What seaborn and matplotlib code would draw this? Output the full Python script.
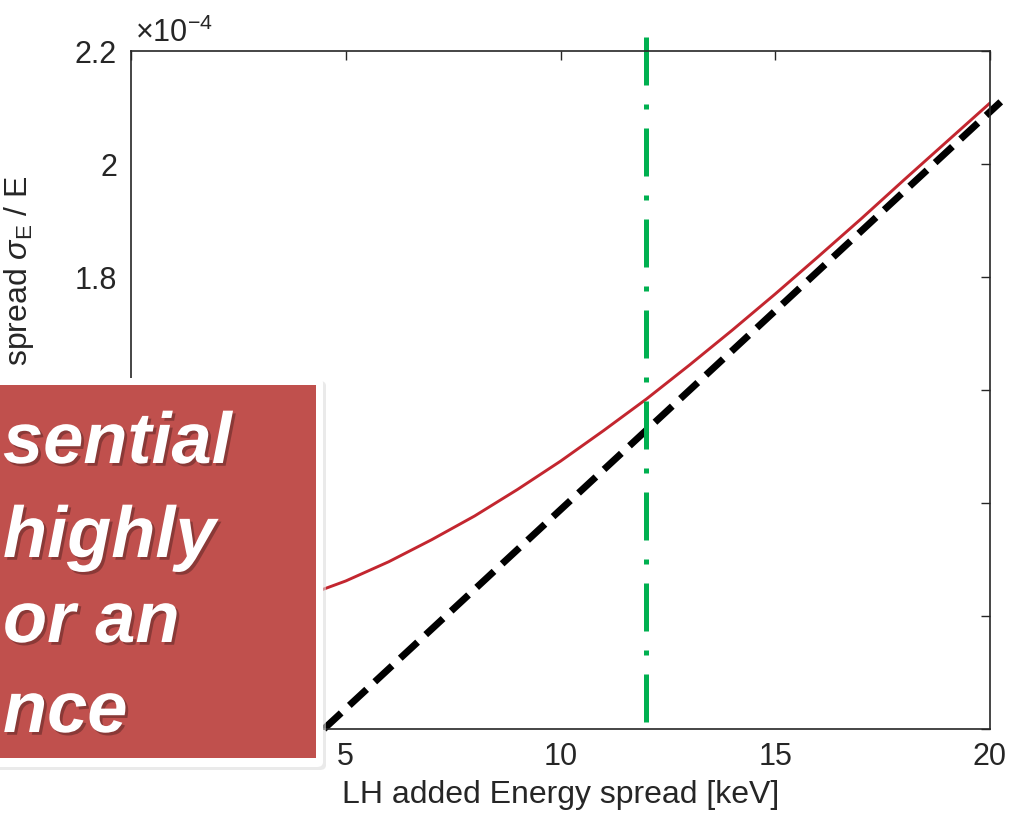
import numpy as np
import pandas as pd
import matplotlib
matplotlib.use("Agg")
import matplotlib.pyplot as plt
import matplotlib.patches as mpatches
import matplotlib.patheffects as pe
import seaborn as sns

# ---------------- data (y in units of 1e-4) ----------------
red_x = [0, 1, 2, 3, 4, 5, 6, 7, 8, 9, 10, 11, 12, 13, 14, 15, 16, 17, 18, 19, 20]
red_y = [1.182, 1.185, 1.195, 1.212, 1.234, 1.262, 1.296, 1.335, 1.377, 1.424,
         1.474, 1.528, 1.584, 1.644, 1.706, 1.770, 1.836, 1.903, 1.972, 2.040, 2.108]
black_x = [4.49, 20.25]
black_y = [1.000, 2.110]
green_x = [12, 12]
green_y = [1.012, 2.228]

x_ticks = [0, 5, 10, 15, 20]
x_tick_labels = ["", "5", "10", "15", "20"]          # 0 is hidden behind the callout
y_ticks = [1.0, 1.2, 1.4, 1.6, 1.8, 2.0, 2.2]
y_tick_labels = ["", "", "", "", "1.8", "2", "2.2"]  # lower labels hidden behind the callout
box_lines = ["sential", "highly", "or an", "nce"]

sns.set_style("white")
plt.rcParams["font.family"] = ["Liberation Sans", "DejaVu Sans"]
plt.rcParams["mathtext.fontset"] = "custom"
plt.rcParams["mathtext.rm"] = "Liberation Sans"
plt.rcParams["mathtext.it"] = "Liberation Sans:italic"
plt.rcParams["mathtext.bf"] = "Liberation Sans:bold"

W, H = 1025, 822
fig = plt.figure(figsize=(W / 100, H / 100), dpi=100)
fig.patch.set_facecolor("white")
ax = fig.add_axes([131 / W, 1 - 729 / H, (990 - 131) / W, (729 - 51) / H])

dark = "#262626"

sns.lineplot(x=red_x, y=red_y, ax=ax, color="#C3262F", linewidth=2.1,
             estimator=None, sort=False)
sns.lineplot(x=black_x, y=black_y, ax=ax, color="black", linewidth=5.0,
             estimator=None, sort=False)
sns.lineplot(x=green_x, y=green_y, ax=ax, color="#00B050", linewidth=3.6,
             estimator=None, sort=False)
lines = ax.get_lines()
lines[1].set_linestyle((0, (3.4, 1.6)))
lines[1].set_clip_on(False)
lines[2].set_linestyle((0, (9.6, 3.8, 1.0, 3.8)))
lines[2].set_clip_on(False)

ax.set_xlim(0, 20)
ax.set_ylim(1.0, 2.2)
ax.set_xticks(x_ticks)
ax.set_xticklabels(x_tick_labels)
ax.set_yticks(y_ticks)
ax.set_yticklabels(y_tick_labels)
ax.tick_params(axis="both", direction="in", length=6.5, width=1.0,
               top=True, right=True, labelsize=22, colors=dark)
ax.tick_params(axis="x", pad=9)
ax.tick_params(axis="y", pad=10)
for s in ax.spines.values():
    s.set_visible(True)
    s.set_color(dark)
    s.set_linewidth(1.2)

ax.set_xlabel("LH added Energy spread [keV]", fontsize=23, color=dark, labelpad=6)
ax.set_ylabel(r"spread $\sigma_{\mathrm{E}}$ / E", fontsize=23, color=dark)
ax.yaxis.set_label_coords((36 - 131) / (990 - 131), (729 - 271) / (729 - 51))

fig.text(135 / W, 1 - 42 / H, r"$\times$10$^{-4}$", fontsize=22, color=dark,
         ha="left", va="baseline")

# ---------------- overlay callout box ----------------
def fx(px):
    return px / W

def fy(py):
    return 1 - py / H

shadow = mpatches.FancyBboxPatch((fx(-10), fy(770)), fx(336), (770 - 381) / H,
                                 boxstyle="round,pad=0,rounding_size=0.006",
                                 transform=fig.transFigure, facecolor="#dcdcdc",
                                 edgecolor="none", alpha=0.6, zorder=9)
white = mpatches.FancyBboxPatch((fx(-10), fy(767)), fx(333), (767 - 378) / H,
                                boxstyle="round,pad=0,rounding_size=0.006",
                                transform=fig.transFigure, facecolor="white",
                                edgecolor="none", zorder=10)
red = mpatches.Rectangle((fx(-10), fy(758)), fx(326), (758 - 385) / H,
                         transform=fig.transFigure, facecolor="#C0504D",
                         edgecolor="none", zorder=11)
for p in (shadow, white, red):
    fig.add_artist(p)

baselines = [463, 557, 642, 732]
for txt, by in zip(box_lines, baselines):
    fig.text(fx(3), fy(by), txt, fontsize=52, fontweight="bold", fontstyle="italic",
             color="white", ha="left", va="baseline", zorder=12,
             path_effects=[pe.withSimplePatchShadow(offset=(2, -2),
                                                    shadow_rgbFace="black", alpha=0.28)])

fig.savefig("out.png", dpi=100)
